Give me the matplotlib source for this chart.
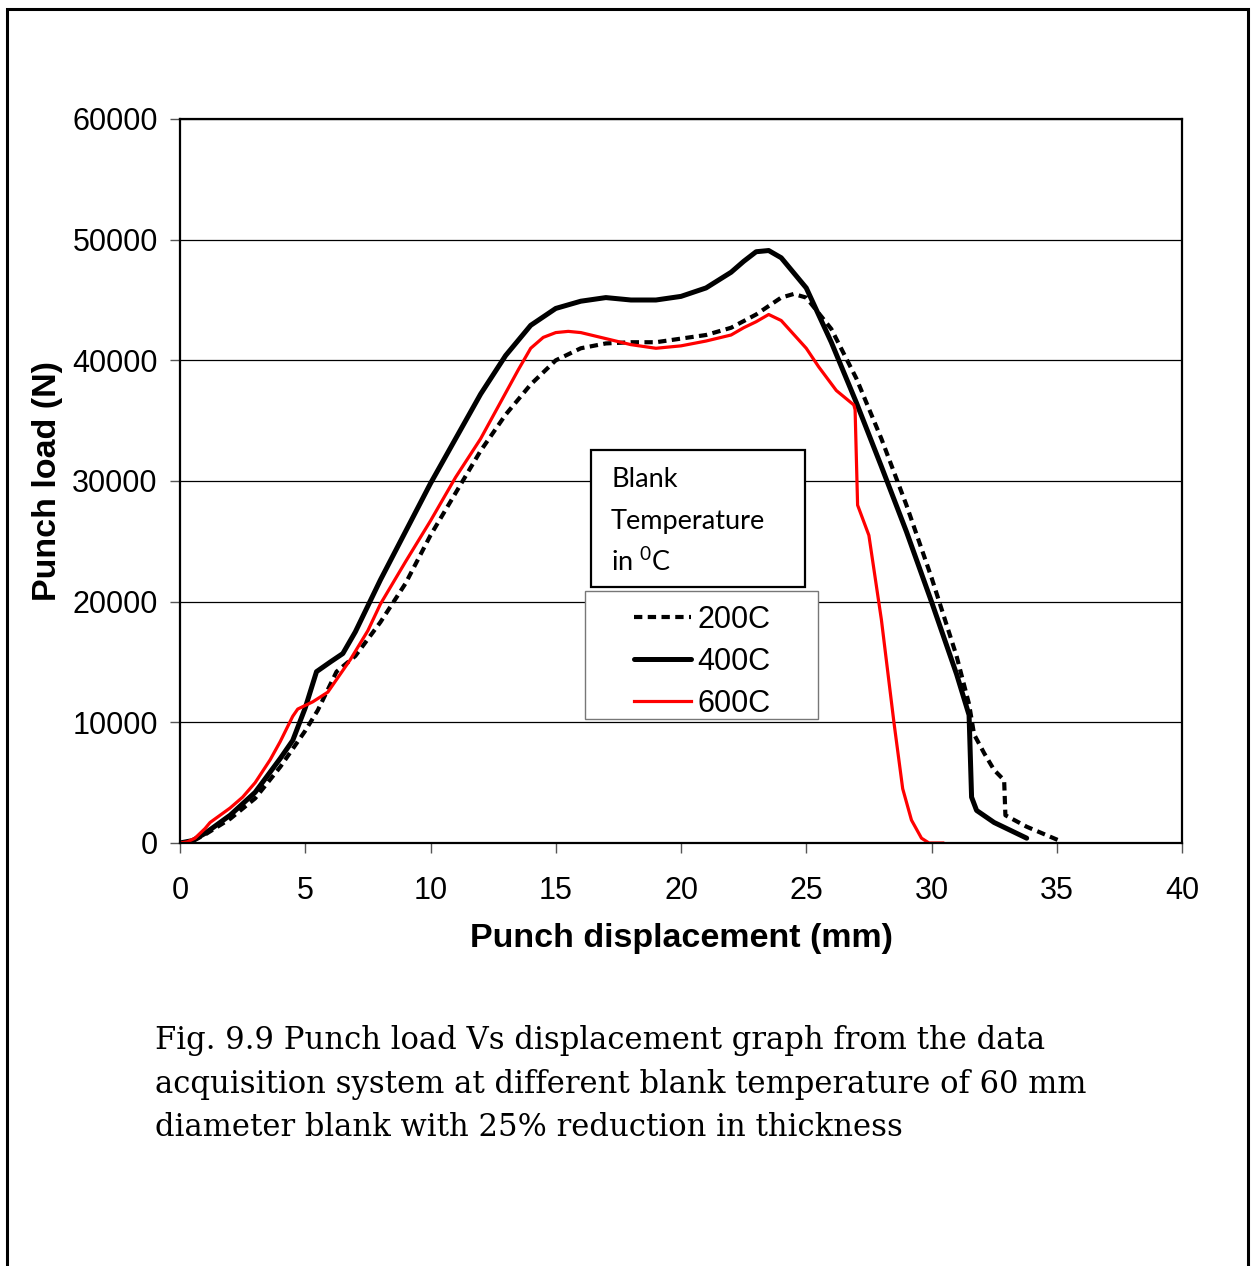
import numpy as np
import matplotlib
matplotlib.use("Agg")
import matplotlib.pyplot as plt
from matplotlib.patches import Rectangle

# Punch load (N) vs punch displacement (mm)
d_200 = [0, 0.5, 1, 2, 3, 4, 5, 5.5, 6.25, 7, 8, 9, 10, 11, 12, 13, 14, 15, 16, 17,
         18, 19, 20, 21, 22, 23, 24, 24.5, 25, 26, 27, 28, 29, 30, 31, 31.5, 31.7,
         32.1, 32.5, 32.9, 32.95, 33.8, 35.1]
L_200 = [0, 150, 700, 2000, 3700, 6300, 9300, 11000, 14200, 15500, 18300, 21500, 25500,
         29000, 32500, 35500, 38000, 40000, 41000, 41400, 41500, 41500, 41800, 42100,
         42700, 43800, 45200, 45500, 45200, 42600, 38500, 33500, 28000, 22000, 15500,
         11500, 9000, 7450, 6050, 5200, 2300, 1350, 200]

d_400 = [0, 0.5, 1, 2, 3, 4, 4.5, 5, 5.45, 6, 6.5, 7, 8, 9, 10, 11, 12, 13, 14, 15, 16,
         17, 18, 19, 20, 21, 22, 22.5, 23, 23.5, 24, 25, 26, 27, 28, 29, 30, 31, 31.5,
         31.6, 31.8, 32.5, 33.8]
L_400 = [0, 200, 800, 2300, 4200, 7000, 8500, 11200, 14200, 15000, 15700, 17500, 21800,
         25800, 29800, 33500, 37200, 40400, 42900, 44300, 44900, 45200, 45000, 45000,
         45300, 46000, 47300, 48200, 49000, 49100, 48500, 46000, 41500, 36500, 31200,
         25800, 20000, 14000, 10600, 3800, 2700, 1700, 400]

d_600 = [0, 0.3, 0.6, 1.0, 1.2, 2, 2.5, 3, 3.6, 4, 4.5, 4.7, 5.3, 5.9, 6.8, 7.5, 8, 9,
         10, 11, 12, 13, 13.5, 14, 14.5, 15, 15.5, 16, 17, 18, 19, 20, 21, 22, 22.5, 23,
         23.5, 24, 25, 25.5, 26.2, 26.9, 26.95, 27.05, 27.5, 28, 28.5, 28.85, 29.2, 29.6,
         29.9, 30.45]
L_600 = [0, 100, 400, 1200, 1700, 2900, 3800, 5000, 6900, 8400, 10500, 11100, 11700,
         12500, 15200, 17600, 19800, 23300, 26700, 30300, 33500, 37300, 39200, 41000,
         41900, 42300, 42400, 42300, 41800, 41300, 41000, 41200, 41600, 42100, 42700,
         43200, 43800, 43300, 41000, 39450, 37500, 36300, 35900, 28000, 25500, 18500,
         10000, 4500, 1900, 400, 0, 0]

labels = ["200C", "400C", "600C"]
x_ticks = [0, 5, 10, 15, 20, 25, 30, 35, 40]
y_ticks = [0, 10000, 20000, 30000, 40000, 50000, 60000]

W, H = 1253, 1266
fig = plt.figure(figsize=(W / 100, H / 100), dpi=100)
plt.rcParams['font.family'] = 'Liberation Sans'

ax = fig.add_axes([180 / W, 1 - 843 / H, 1002 / W, 724 / H])

ax.plot(d_200, L_200, color='black', lw=3.0, linestyle=(0, (2.0, 1.3)), label=labels[0])
ax.plot(d_400, L_400, color='black', lw=3.6, solid_capstyle='round', label=labels[1])
ax.plot(d_600, L_600, color='#ff0000', lw=2.3, label=labels[2])

ax.set_xlim(0, 40)
ax.set_ylim(0, 60000)
ax.set_xticks(x_ticks)
ax.set_yticks(y_ticks)
ax.yaxis.grid(True, color='black', lw=0.9)
ax.set_axisbelow(True)
for s in ax.spines.values():
    s.set_linewidth(1.6)
ax.tick_params(direction='out', length=7, width=1.0, labelsize=22, color='#555555')
ax.tick_params(axis='x', pad=17)
ax.tick_params(axis='y', pad=9)
ax.set_xlabel("Punch displacement (mm)", fontsize=24.5, fontweight='bold', labelpad=12)
ax.set_ylabel("Punch load (N)", fontsize=24.5, fontweight='bold', labelpad=7)

# legend title box
ax.add_patch(Rectangle((591 / W, 1 - 587 / H), 214 / W, 137 / H, transform=fig.transFigure,
                       facecolor='white', edgecolor='black', lw=1.6, clip_on=False, zorder=5))
for txt, yp in [("Blank", 480), ("Temperature", 521), (r"in $\mathregular{^0}$C", 562)]:
    ax.text(611 / W, 1 - yp / H, txt, fontsize=19.5, family='Lato', va='center',
            transform=fig.transFigure, zorder=6)

# legend box
ax.add_patch(Rectangle((585 / W, 1 - 719 / H), 233 / W, 128 / H, transform=fig.transFigure,
                       facecolor='white', edgecolor='#777777', lw=1.0, clip_on=False,
                       zorder=5))
leg = ax.legend(loc='upper left', bbox_to_anchor=(634 / W, 1 - 605 / H),
                bbox_transform=fig.transFigure, frameon=False, fontsize=22,
                borderpad=0, borderaxespad=0, handlelength=1.85, handletextpad=0.22,
                labelspacing=0.39)
leg.set_zorder(7)

# caption
caption = ["Fig. 9.9 Punch load Vs displacement graph from the data",
           "acquisition system at different blank temperature of 60 mm",
           "diameter blank with 25% reduction in thickness"]
for i, line in enumerate(caption):
    fig.text(155 / W, 1 - (1040 + 44 * i) / H, line, fontsize=22.1, family='DejaVu Serif',
             va='center')

# outer frame of the page
fig.add_artist(Rectangle((7 / W, -0.05), 1241 / W, 1.05 - 9 / H, transform=fig.transFigure,
                         fill=False, edgecolor='black', lw=2.2))

fig.savefig("out.png", dpi=100)
